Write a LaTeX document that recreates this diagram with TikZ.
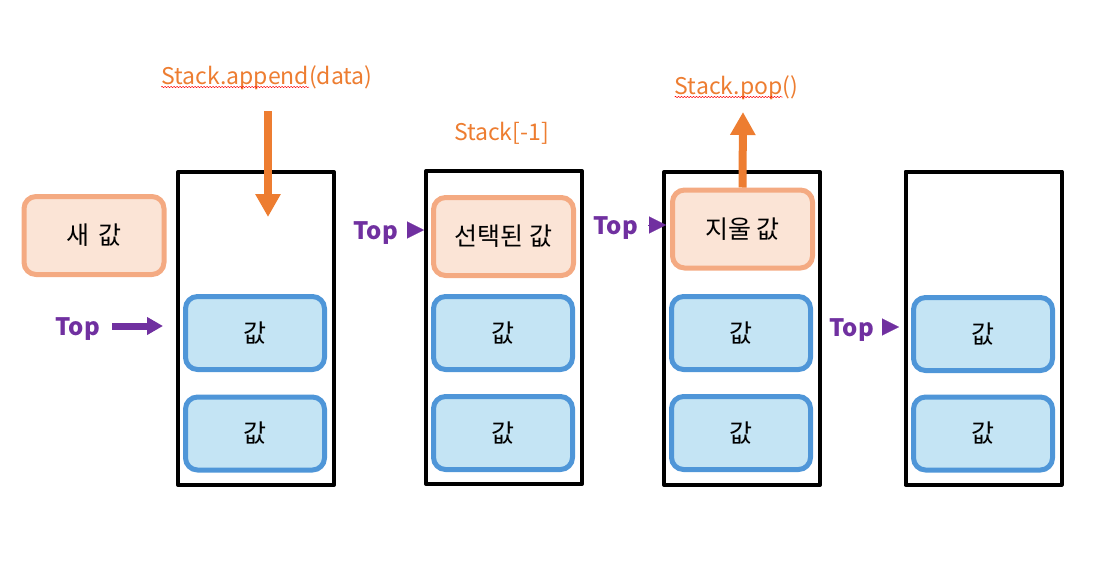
\documentclass[tikz,border=0pt]{standalone}
\usepackage{fontspec}
\setmainfont{Noto Sans CJK KR}
\usetikzlibrary{arrows.meta,decorations.pathmorphing}
\definecolor{callcolor}{HTML}{ED7D31}
\definecolor{newfill}{HTML}{FBE4D6}
\definecolor{newdraw}{HTML}{F4AA82}
\definecolor{valfill}{HTML}{C4E4F4}
\definecolor{valdraw}{HTML}{4F96D8}
\definecolor{topcolor}{HTML}{7030A0}
\begin{document}
\begin{tikzpicture}[x=1pt, y=-1pt, line join=round,
	stackbox/.style={draw=black, line width=4pt, minimum width=156pt, minimum height=313pt, inner sep=0pt},
	newbox/.style={draw=newdraw, fill=newfill, line width=5pt, rounded corners=12pt, minimum width=140pt, minimum height=78pt, font=\fontsize{25}{30}\selectfont},
	valbox/.style={draw=valdraw, fill=valfill, line width=5pt, rounded corners=12pt, minimum width=139pt, minimum height=73pt, font=\fontsize{25}{30}\selectfont},
	toplabel/.style={text=topcolor, font=\fontsize{24}{28}\selectfont\bfseries, inner sep=0pt, anchor=east},
	toptri/.style={draw=topcolor, fill=topcolor, line width=0.1pt, -{Triangle[width=17pt,length=17pt]}},
	callarrow/.style={draw=callcolor, line width=8pt, -{Triangle[width=24pt,length=23pt]}},
	calllabel/.style={text=callcolor, font=\fontsize{23}{27}\selectfont, inner sep=0pt, anchor=base},
	squiggle/.style={red, line width=0.5pt, decorate, decoration={snake, amplitude=0.7pt, segment length=3pt}}]
	\useasboundingbox (0,0) rectangle (1120,581);
	%%%%%%%%%%%%%%%%%%%%%%%%%%%%%%%%%
	\coordinate (appstart) at (268,111);
	\coordinate (apptip) at (268,217);
	\coordinate (poptip) at (743,112);
	\coordinate (tipA) at (163,326);
	\coordinate (tipB) at (424,230);
	\coordinate (tipC) at (666,225);
	\coordinate (tipD) at (899,327);
	%%%%%%%%%%%%%%%%%%%%%%%%%%%%%%%%%
	\node[stackbox] (stackA) at (256,328.5) {};
	\node[stackbox] (stackB) at (504,327.5) {};
	\node[stackbox] (stackC) at (742,328.5) {};
	\node[stackbox] (stackD) at (983.5,328) {};
	%%%%%%%%%%%%%%%%%%%%%%%%%%%%%%%%%
	\node[newbox] (newval) at (94,235.5) {새 \,값};
	\node[valbox] (valA1) at (255,333) {값};
	\node[valbox] (valA2) at (255,433.5) {값};
	\node[newbox] (topval) at (503.5,236.5) {선택된 값};
	\node[valbox] (valB1) at (503,333) {값};
	\node[valbox] (valB2) at (503,433) {값};
	\node[newbox] (popval) at (742.5,229) {지울 값};
	\node[valbox] (valC1) at (741,333) {값};
	\node[valbox] (valC2) at (741,433) {값};
	\node[valbox] (valD1) at (983,334) {값};
	\node[valbox] (valD2) at (983,433.5) {값};
	%%%%%%%%%%%%%%%%%%%%%%%%%%%%%%%%%
	\node[calllabel] (append) at (267,84) {Stack.append(data)};
	\node[calllabel] (peek) at (501.5,140) {Stack[-1]};
	\node[calllabel] (pop) at (736.5,94) {Stack.pop()};
	\draw[squiggle] ([yshift=-3pt]append.base west) -- ++(148,0);
	\draw[squiggle] ([yshift=-3pt]pop.base west) -- ++(108,0);
	\draw[callarrow] (appstart) -- (apptip);
	\draw[callarrow] (popval.north) -- (poptip);
	%%%%%%%%%%%%%%%%%%%%%%%%%%%%%%%%%
	\node[toplabel] (topA) at (100,329) {Top};
	\node[toplabel] (topB) at (398,233) {Top};
	\node[toplabel] (topC) at (638,228) {Top};
	\node[toplabel] (topD) at (874,330) {Top};
	\draw[draw=topcolor, line width=7pt, -{Triangle[width=17pt,length=16pt]}, shorten <=12pt] (topA.east |- tipA) -- (tipA);
	\draw[toptri, shorten <=9pt] (topB.east |- tipB) -- (tipB);
	\draw[toptri, shorten <=10pt] (topC.east |- tipC) -- (tipC);
	\draw[toptri, shorten <=8pt] (topD.east |- tipD) -- (tipD);
	%%%%%%%%%%%%%%%%%%%%%%%%%%%%%%%%%
\end{tikzpicture}
\end{document}
